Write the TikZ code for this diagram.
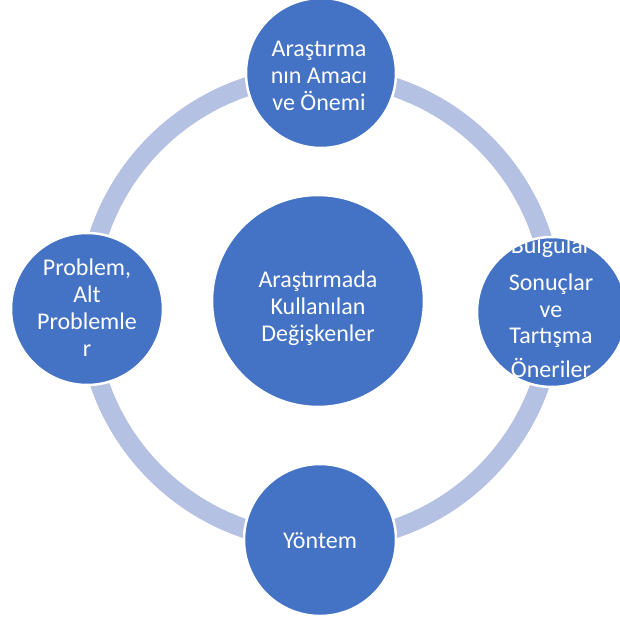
\documentclass[tikz,border=0pt]{standalone}
\usepackage{fontspec}
\setmainfont{Carlito}
\definecolor{cblue}{HTML}{4472C4}
\definecolor{ringc}{HTML}{B4C1E2}
\begin{document}
\begin{tikzpicture}[x=1pt,y=-1pt,
  bub/.style={circle,fill=cblue,draw=white,line width=2.5pt,inner sep=0pt},
  txt/.style={text=white,align=center,font=\fontsize{24}{27}\selectfont,inner sep=0pt},
]
\useasboundingbox (0,0) rectangle (619,621);
\coordinate (o) at (320,308);
\draw[ringc,line width=19pt] (o) circle[radius=233];
\node[bub,minimum size=212] (c) at (318,301) {};
\node[bub,minimum size=150] (t) at (321,73) {};
\node[bub,minimum size=152] (l) at (87,309) {};
\node[bub,minimum size=152] (b) at (320,540) {};
\node[bub,minimum size=150] (r) at (552,312) {};
\node[txt] (ct) at (318,308) {Araştırmada\\Kullanılan\\Değişkenler};
\node[txt] (tt) at (319,76) {Araştırma\\nın Amacı\\ve Önemi};
\node[txt] (lt) at (87,308) {Problem,\\Alt\\Problemle\\r};
\node[txt] (bt) at (320,541) {Yöntem};
\begin{scope}
\clip (r) circle[radius=74];
\node[txt,anchor=base] (r1) at (551,253) {Bulgular};
\node[txt,anchor=base] (r2) at (551,290) {Sonuçlar};
\node[txt,anchor=base] (r3) at (551,317) {ve};
\node[txt,anchor=base] (r4) at (551,343) {Tartışma};
\node[txt,anchor=base] (r5) at (551,377) {Öneriler};
\end{scope}
\end{tikzpicture}
\end{document}
